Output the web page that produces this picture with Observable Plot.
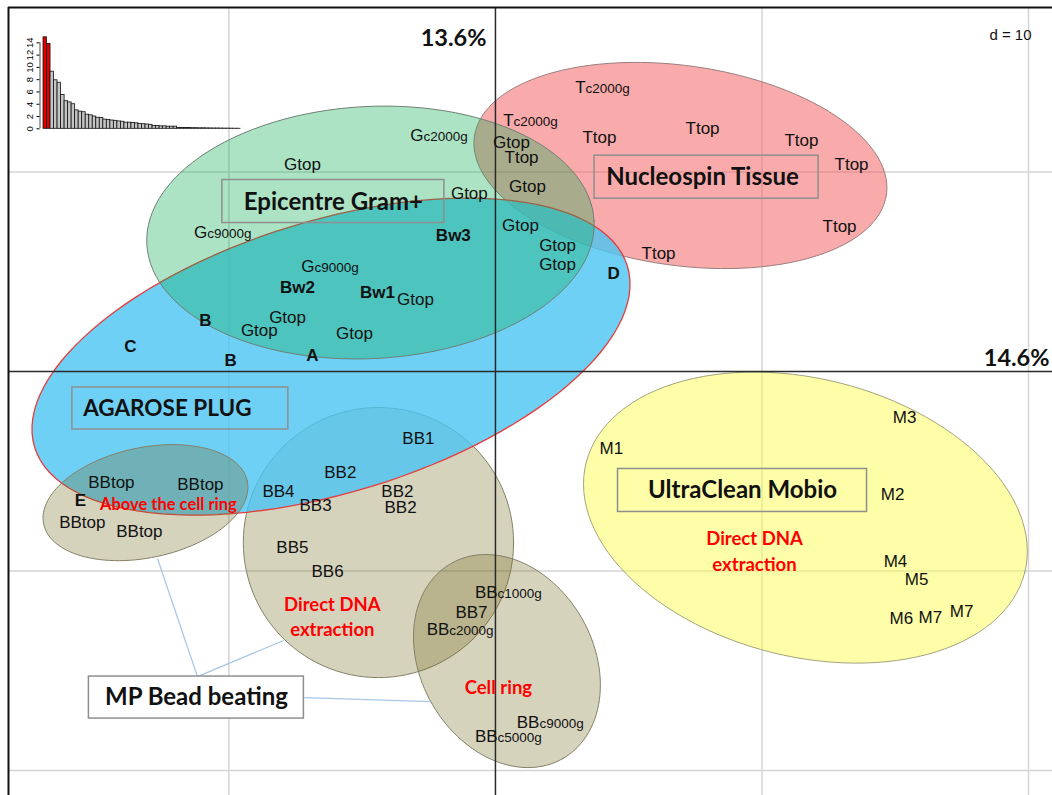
<!DOCTYPE html>
<html><head><meta charset="utf-8">
<script src="https://cdn.jsdelivr.net/npm/d3@7"></script>
<script src="https://cdn.jsdelivr.net/npm/@observablehq/plot@0.6"></script>
<style>
body{margin:0;background:#fff;}
#wrap{position:relative;width:1052px;height:795px;overflow:hidden;}
#wrap svg{position:absolute;left:0;top:0;}
</style></head><body><div id="wrap"></div>
<script>
// ---------- data ----------
// sample scores on PCA axis 1 (x) and axis 2 (y)
const sampleLabel = ["Gc2000g","Gtop","Gtop","Gc9000g","Gc9000g","Gtop","Gtop","Gtop","Gtop","Gtop","Gtop","Gtop","Gtop","Gtop",
  "Tc2000g","Tc2000g","Ttop","Ttop","Ttop","Ttop","Ttop","Ttop","Ttop",
  "Bw3","Bw2","Bw1","B","C","B","A","D","E",
  "BBtop","BBtop","BBtop","BBtop",
  "BB1","BB2","BB4","BB3","BB2","BB2","BB5","BB6",
  "BBc1000g","BB7","BBc2000g","BBc9000g","BBc5000g",
  "M1","M3","M2","M4","M5","M6","M7","M7"];
const sampleX = [-2.70,-7.24,-0.98,-10.81,-6.79,-3.00,-7.80,-8.86,-5.29,0.60,1.20,0.94,2.33,2.33,
  3.38,0.68,0.98,3.90,7.77,11.48,13.36,12.91,6.12,
  -1.58,-7.43,-4.43,-10.88,-13.70,-9.94,-6.87,4.43,-15.57,
  -14.41,-11.07,-15.50,-13.36,
  -2.89,-5.82,-8.14,-6.75,-3.68,-3.56,-7.62,-6.30,
  0.08,-0.90,-1.73,1.65,0.08,
  4.35,15.35,14.90,15.01,15.80,15.23,16.32,17.49];
const sampleY = [11.83,10.38,8.92,6.97,5.26,3.61,2.71,2.06,1.90,11.48,9.27,7.32,6.32,5.36,
  14.24,12.58,10.73,11.73,12.18,11.58,10.38,7.27,5.91,
  6.82,4.21,3.96,2.56,1.25,0.55,0.80,4.91,-6.47,
  -5.56,-5.66,-7.57,-8.02,
  -3.36,-5.06,-6.02,-6.72,-6.02,-6.82,-8.82,-10.03,
  -11.08,-12.08,-12.93,-17.59,-18.30,
  -3.86,-2.31,-6.17,-9.52,-10.43,-12.38,-12.33,-12.03];

// group ellipses: centre and conjugate half-axes (axis units), in drawing order
const ellipseGroup = ["Nucleospin Tissue","MP direct","Agarose plug","MP above ring","Epicentre Gram+","MP cell ring","UltraClean Mobio"];
const ellipseCx = [6.94,-4.39,-6.17,-13.13,-4.69,0.43,11.63];
const ellipseCy = [10.33,-8.57,0.75,-6.57,6.97,-14.51,-7.32];
const ellipseUx = [7.73,5.07,11.12,3.82,8.39,2.11,8.23];
const ellipseUy = [-1.45,0,4.54,1.08,0.59,-4.88,-2.74];
const ellipseVx = [-0.52,0,1.49,0.43,0.25,-2.80,-1.26];
const ellipseVy = [-4.96,-6.77,-6.52,-2.70,-6.31,-2.17,-6.76];

// kit name tags
const tagText = ["Epicentre Gram+","Nucleospin Tissue","AGAROSE PLUG","UltraClean Mobio","MP Bead beating"];
const tagX = [-6.08,7.77,-12.31,9.27,-11.22];
const tagY = [8.50,9.72,-1.85,-5.96,-16.34];

// red protocol notes
const noteText = ["Above the cell ring","Direct DNA\nextraction","Cell ring","Direct DNA\nextraction"];
const noteX = [-12.27,-6.12,0.11,9.72];
const noteY = [-6.57,-12.21,-15.74,-8.92];

// leader lines from the "MP Bead beating" tag
const leaderX1 = [-11.18,-11.18,-7.17];
const leaderY1 = [-15.29,-15.29,-16.34];
const leaderX2 = [-12.68,-7.95,-2.44];
const leaderY2 = [-9.37,-13.48,-16.54];

// grid
const gridX = [-10,10,20];
const gridY = [10,-10,-20];
const gridD = "d = 10";
const axisPct = {x: "14.6%", y: "13.6%"};

// eigenvalues (inset)
const eigenvalues = [14.9,13.8,9.3,7.9,7.5,5.5,4.5,4.3,4.0,3.0,2.8,2.7,2.3,2.2,2.0,1.8,1.75,1.5,1.45,1.35,
  1.3,1.2,1.15,1.0,1.0,0.95,0.9,0.8,0.75,0.7,0.65,0.45,0.45,0.4,0.4,0.35,0.35,0.35,
  0.15,0.15,0.12,0.12,0.1,0.1,0.08,0.08,0.07,0.06,0.05,0.05,0.04,0.03,0.03,0.02,0.01,0.01];
const eigTicks = [0,2,4,6,8,10,12,14];

// ---------- build ----------
const xDomain = [-18.27, 20.90];
const yDomain = [-21.25, 18.25];

const samples = sampleLabel.map((s,i)=>({label:s, x:sampleX[i], y:sampleY[i]}));
const boldRe = /^(A|B|C|D|E|Bw\d)$/;
const splitRe = /^(G|T|BB)(c\d+g)$/;
const plain = samples.filter(d=>!boldRe.test(d.label) && !splitRe.test(d.label));
const bold = samples.filter(d=>boldRe.test(d.label));
const split = samples.filter(d=>splitRe.test(d.label)).map(d=>{const m=d.label.match(splitRe);return {...d, pre:m[1], suf:m[2]};});

const ellStyle = [
  {fill:"#f35557", op:0.5, stroke:"#9a7f7f", sw:1},
  {fill:"#72671c", op:0.29, stroke:"#858068", sw:1},
  {fill:"#4ac4f2", op:0.8, stroke:"#e63c3c", sw:1.3},
  {fill:"#72671c", op:0.29, stroke:"#858068", sw:1},
  {fill:"#0ead54", op:0.34, stroke:"#6f8076", sw:1},
  {fill:"#72671c", op:0.29, stroke:"#858068", sw:1},
  {fill:"#fdfd51", op:0.5, stroke:"#a3a37f", sw:1}
];
const ellipseMarks = ellipseGroup.map((g,k)=>{
  const pts = d3.range(0,361,3).map(a=>{const t=a*Math.PI/180;
    return {x: ellipseCx[k]+Math.cos(t)*ellipseUx[k]+Math.sin(t)*ellipseVx[k],
            y: ellipseCy[k]+Math.cos(t)*ellipseUy[k]+Math.sin(t)*ellipseVy[k]};});
  const s = ellStyle[k];
  return Plot.line(pts,{x:"x",y:"y",curve:"linear-closed",fill:s.fill,fillOpacity:s.op,stroke:s.stroke,strokeWidth:s.sw});
});

const tags = tagText.map((t,i)=>({t, x:tagX[i], y:tagY[i]}));
const boxGeom = {"Epicentre Gram+":[222,43,0,0.5],"Nucleospin Tissue":[224,43,4,0.5],"AGAROSE PLUG":[216,42,13,0],
  "UltraClean Mobio":[249,43,0,0],"MP Bead beating":[215,42,0,0]};
const boxMarks = tags.map(d=>{const [w,h,dx,dy]=boxGeom[d.t];
  return Plot.rect([d],{x1:"x",x2:"x",y1:"y",y2:"y",dx, dy:-dy,
    insetLeft:-w/2,insetRight:-w/2,insetTop:-h/2,insetBottom:-h/2,
    fill: d.t==="MP Bead beating" ? "white" : "none", stroke:"#8f8f8f", strokeWidth:1.5});});
const tagSize = d => d.t==="AGAROSE PLUG" ? 22.5 : 24;

const leaders = leaderX1.map((v,i)=>({x1:v,y1:leaderY1[i],x2:leaderX2[i],y2:leaderY2[i]}));
const notes = noteText.map((t,i)=>({t,x:noteX[i],y:noteY[i]}));
const noteSize = d => d.t.startsWith("Above") ? 16.5 : 18.5;

const sans = "Liberation Sans, Arial, sans-serif";
const hum = "Lato, 'Open Sans', sans-serif";

const main = Plot.plot({
  width:1052, height:795, marginLeft:8, marginTop:7, marginRight:0, marginBottom:0,
  x:{domain:xDomain, axis:null}, y:{domain:yDomain, axis:null},
  style:{background:"transparent", overflow:"visible"},
  marks:[
    Plot.ruleX(gridX,{stroke:"#d4d4d4",strokeWidth:1.5}),
    Plot.ruleY(gridY,{stroke:"#d4d4d4",strokeWidth:1.5}),
    ...ellipseMarks,
    Plot.link(leaders,{x1:"x1",y1:"y1",x2:"x2",y2:"y2",stroke:"#aac6e6",strokeWidth:1.3}),
    Plot.ruleX([0],{stroke:"#2a2a2a",strokeWidth:1.5}),
    Plot.ruleY([0],{stroke:"#2a2a2a",strokeWidth:1.5}),
    Plot.ruleY([yDomain[1]],{stroke:"#111",strokeWidth:2}),
    Plot.ruleX([xDomain[0]],{stroke:"#111",strokeWidth:2}),
    ...boxMarks,
    Plot.text(tags,{x:"x",y:"y",text:"t",fontFamily:hum,fontWeight:"bold",fontSize:tagSize,fill:"#111"}),
    Plot.text(plain,{x:"x",y:"y",text:"label",fontFamily:sans,fontSize:17,fill:"#111"}),
    Plot.text(bold,{x:"x",y:"y",text:"label",fontFamily:sans,fontWeight:"bold",fontSize:17,fill:"#111"}),
    Plot.text(split,{x:"x",y:"y",text:"pre",fontFamily:sans,fontSize:17,textAnchor:"end",lineAnchor:"bottom",dy:5.4,fill:"#111"}),
    Plot.text(split,{x:"x",y:"y",text:"suf",fontFamily:sans,fontSize:13.5,textAnchor:"start",lineAnchor:"bottom",dy:5.4,fill:"#111"}),
    Plot.text(notes,{x:"x",y:"y",text:"t",fontFamily:hum,fontWeight:"bold",fontSize:noteSize,lineHeight:1.4,fill:"#ff0000"}),
    Plot.text([axisPct.y],{x:0,frameAnchor:"top",dy:22,dx:-9,textAnchor:"end",fontFamily:hum,fontWeight:"bold",fontSize:23.5,fill:"#111"}),
    Plot.text([axisPct.x],{y:0,frameAnchor:"right",dy:-13,dx:-3,textAnchor:"end",fontFamily:hum,fontWeight:"bold",fontSize:23.5,fill:"#111"}),
    Plot.text([gridD],{frameAnchor:"top-right",dy:22,dx:-21,textAnchor:"end",fontFamily:sans,fontSize:15,fill:"#111"})
  ]
});

const eig = eigenvalues.map((v,i)=>({i,v,first:i<2}));
const inset = Plot.plot({
  width:250, height:140, marginLeft:43, marginRight:10, marginTop:36.2, marginBottom:11.7,
  x:{domain:[0,eigenvalues.length], axis:null, label:null},
  y:{domain:[0,15], axis:null, label:null},
  style:{background:"transparent", overflow:"visible"},
  marks:[
    Plot.rectY(eig,{x1:"i",x2:d=>d.i+1,y1:0,y2:"v",fill:d=>d.first?"#e00000":"#c4c4c4",stroke:"#111",strokeWidth:0.8}),
    Plot.ruleX([0],{y1:0,y2:14,dx:-3.5,stroke:"#222",strokeWidth:0.8}),
    Plot.axisY({ticks:eigTicks,tickSize:3,tickRotate:-90,tickPadding:4,dx:-3.5,fontSize:9.5,fontFamily:sans,label:null,tickFormat:d=>String(d)})
  ]
});

const wrap = document.getElementById("wrap");
wrap.appendChild(main);
wrap.appendChild(inset);
</script>
</body></html>
